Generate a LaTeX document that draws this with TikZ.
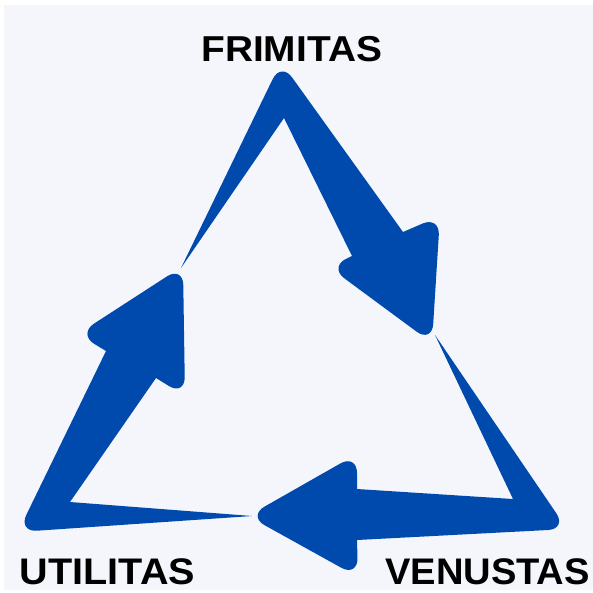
\documentclass[tikz,border=0pt]{standalone}
\usepackage{fontspec}
\usepackage{graphicx}
\setmainfont{Liberation Sans}
\usetikzlibrary{calc}
\definecolor{bgpanel}{HTML}{F4F6FC}
\definecolor{arrowblue}{HTML}{004AAD}
\newcommand\rcut{19pt}
\newcommand\rctl{8.5pt}
\begin{document}
\begin{tikzpicture}[x=1pt,y=-1pt,
  arrowfill/.style={fill=arrowblue},
  lbl/.style={text=black, inner sep=0pt, anchor=base}]
\useasboundingbox (0,0) rectangle (593,592);
\fill[white] (0,0) rectangle (593,592);
\fill[bgpanel] (4,5) rectangle (593,590);

% arrow 1 (top, pointing down-right)
\coordinate (T1) at (181,268);
\coordinate (N1) at (284,118);
\coordinate (S1i) at (352,256);
\coordinate (L1) at (329,267);
\coordinate (P1) at (432,343);
\coordinate (R1) at (440,216);
\coordinate (S1o) at (403,232);
\coordinate (A1) at (281,62);

% arrow 2 (bottom, pointing left)
\coordinate (T2) at (435,335);
\coordinate (V2) at (567,529);
\coordinate (S2b) at (357,540);
\coordinate (H2b) at (358,577);
\coordinate (P2) at (248,516);
\coordinate (H2t) at (357,454);
\coordinate (S2t) at (357,489);
\coordinate (I2) at (513,499);

% arrow 3 (left, pointing up)
\coordinate (T3) at (252,516);
\coordinate (I3) at (70,502);
\coordinate (S3i) at (156,378);
\coordinate (H3r) at (185,396);
\coordinate (P3) at (183,266);
\coordinate (H3l) at (78,334);
\coordinate (S3o) at (106,351);
\coordinate (V3) at (18,532);

\fill[arrowfill] (T1) -- (N1) -- (S1i)
 -- ($(L1)!\rcut!(S1i)$) .. controls ($(L1)!\rctl!(S1i)$) and ($(L1)!\rctl!(P1)$) .. ($(L1)!\rcut!(P1)$)
 -- ($(P1)!\rcut!(L1)$) .. controls ($(P1)!\rctl!(L1)$) and ($(P1)!\rctl!(R1)$) .. ($(P1)!\rcut!(R1)$)
 -- ($(R1)!\rcut!(P1)$) .. controls ($(R1)!\rctl!(P1)$) and ($(R1)!\rctl!(S1o)$) .. ($(R1)!\rcut!(S1o)$)
 -- (S1o)
 -- ($(A1)!\rcut!(S1o)$) .. controls ($(A1)!\rctl!(S1o)$) and ($(A1)!\rctl!(T1)$) .. ($(A1)!\rcut!(T1)$)
 -- cycle;

\fill[arrowfill] (T2)
 -- ($(V2)!\rcut!(T2)$) .. controls ($(V2)!\rctl!(T2)$) and ($(V2)!\rctl!(S2b)$) .. ($(V2)!\rcut!(S2b)$)
 -- (S2b)
 -- ($(H2b)!\rcut!(S2b)$) .. controls ($(H2b)!\rctl!(S2b)$) and ($(H2b)!\rctl!(P2)$) .. ($(H2b)!\rcut!(P2)$)
 -- ($(P2)!\rcut!(H2b)$) .. controls ($(P2)!\rctl!(H2b)$) and ($(P2)!\rctl!(H2t)$) .. ($(P2)!\rcut!(H2t)$)
 -- ($(H2t)!\rcut!(P2)$) .. controls ($(H2t)!\rctl!(P2)$) and ($(H2t)!\rctl!(S2t)$) .. ($(H2t)!\rcut!(S2t)$)
 -- (S2t) -- (I2) -- cycle;

\fill[arrowfill] (T3) -- (I3) -- (S3i)
 -- ($(H3r)!\rcut!(S3i)$) .. controls ($(H3r)!\rctl!(S3i)$) and ($(H3r)!\rctl!(P3)$) .. ($(H3r)!\rcut!(P3)$)
 -- ($(P3)!\rcut!(H3r)$) .. controls ($(P3)!\rctl!(H3r)$) and ($(P3)!\rctl!(H3l)$) .. ($(P3)!\rcut!(H3l)$)
 -- ($(H3l)!\rcut!(P3)$) .. controls ($(H3l)!\rctl!(P3)$) and ($(H3l)!\rctl!(S3o)$) .. ($(H3l)!\rcut!(S3o)$)
 -- (S3o)
 -- ($(V3)!\rcut!(S3o)$) .. controls ($(V3)!\rctl!(S3o)$) and ($(V3)!\rctl!(T3)$) .. ($(V3)!\rcut!(T3)$)
 -- cycle;

\node[lbl, font=\fontsize{36}{40}\selectfont\bfseries] (frimitas) at (291.7,61) {\scalebox{1.08}[1]{FRIMITAS}};
\node[lbl, font=\fontsize{37}{41}\selectfont\bfseries] (utilitas) at (107.5,584) {\scalebox{1.07}[1]{UTILITAS}};
\node[lbl, font=\fontsize{37}{41}\selectfont\bfseries] (venustas) at (487.5,584) {\scalebox{1.03}[1]{VENUSTAS}};
\end{tikzpicture}
\end{document}
